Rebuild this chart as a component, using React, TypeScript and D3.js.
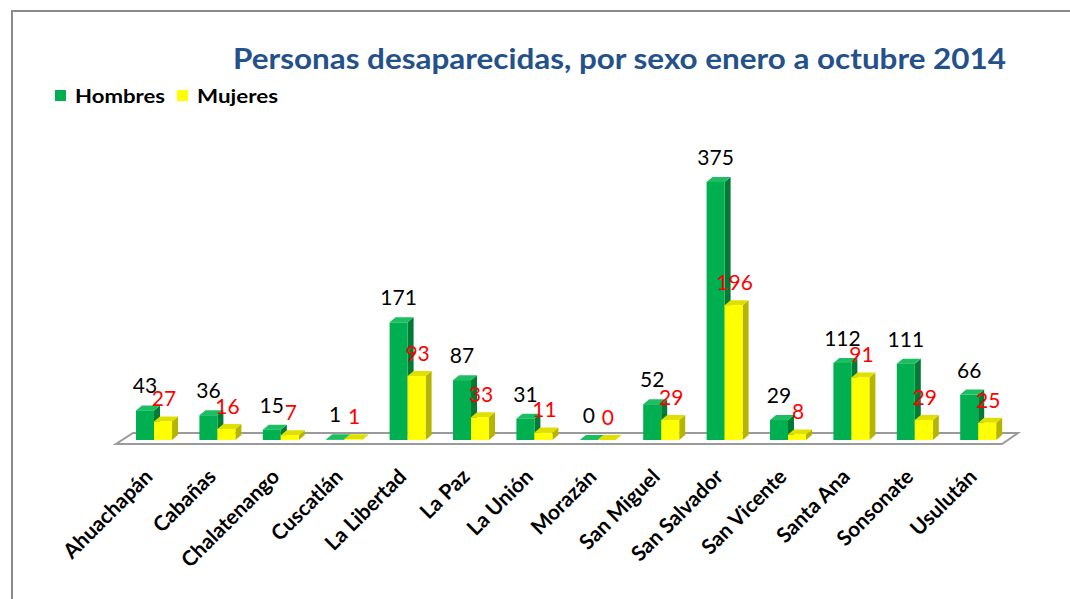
import React from "react";
import * as d3 from "d3";

const categories = ["Ahuachapán","Cabañas","Chalatenango","Cuscatlán","La Libertad","La Paz","La Unión","Morazán","San Miguel","San Salvador","San Vicente","Santa Ana","Sonsonate","Usulután"];
const hombres = [43,36,15,1,171,87,31,0,52,375,29,112,111,66];
const mujeres = [27,16,7,1,93,33,11,0,29,196,8,91,29,25];
const seriesNames = ["Hombres","Mujeres"];
const title = "Personas desaparecidas, por sexo enero a octubre 2014";

const W = 1070, H = 599;
const FONT = "Lato, 'Open Sans', sans-serif";
const GREEN = { front: "#00B050", side: "#007A35", top: "#1DBE62" };
const YELLOW = { front: "#FFFF00", side: "#B5B500", top: "#E0E000" };
const DX = 6, DY = 5;
const BASE = 440;

function Bar3D({ x, w, y, c }: { x: number; w: number; y: number; c: typeof GREEN }) {
  const h = BASE - y;
  return (
    <g>
      <polygon points={`${x + w},${y} ${x + w + DX},${y - DY} ${x + w + DX},${BASE - DY} ${x + w},${BASE}`} fill={c.side} />
      <polygon points={`${x},${y} ${x + DX},${y - DY} ${x + w + DX},${y - DY} ${x + w},${y}`} fill={c.top} />
      {h > 0.5 && <rect x={x} y={y} width={w} height={h} fill={c.front} />}
    </g>
  );
}

export default function App() {
  const x = d3.scaleBand<string>().domain(categories).range([122.3, 122.3 + 63.4 * categories.length]).padding(0);
  const y = d3.scaleLinear().domain([0, 375]).range([BASE, 182]);
  const step = x.step();
  const bw = 18;
  const off = (step - 2 * bw) / 2;

  const floor = [[116, 444], [1002, 444], [1018, 433], [133, 433]];

  return (
    <svg width={W} height={H} style={{ position: "absolute", left: 0, top: 0, background: "#fff" }} fontFamily={FONT}>
      <rect x={12} y={11} width={1100} height={700} fill="none" stroke="#8a8a8a" strokeWidth={2} />
      <text x={233} y={69} fontSize={28} fontWeight="bold" fill="#24518A" textLength={773} lengthAdjust="spacingAndGlyphs">{title}</text>
      {/* legend */}
      <rect x={55} y={90} width={11} height={11} fill={GREEN.front} />
      <text x={75} y={103} fontSize={19} fontWeight="bold" fill="#000" textLength={90} lengthAdjust="spacingAndGlyphs">{seriesNames[0]}</text>
      <rect x={177} y={90} width={11} height={11} fill={YELLOW.front} />
      <text x={197} y={103} fontSize={19} fontWeight="bold" fill="#000" textLength={81} lengthAdjust="spacingAndGlyphs">{seriesNames[1]}</text>
      {/* floor */}
      <polygon points={floor.map(p => p.join(",")).join(" ")} fill="#fff" stroke="#9a9a9a" strokeWidth={2} />
      {categories.map((c, i) => {
        const gx = (x(c) as number) + off;
        const yx = gx + bw;
        return (
          <g key={c}>
            <Bar3D x={gx} w={bw} y={y(hombres[i])} c={GREEN} />
            <Bar3D x={yx} w={bw} y={y(mujeres[i])} c={YELLOW} />
          </g>
        );
      })}
      {categories.map((c, i) => {
        const gx = (x(c) as number) + off;
        const yx = gx + bw;
        return (
          <g key={c + "l"} fontSize={21}>
            <text x={gx + bw / 2} y={y(hombres[i]) - 17} textAnchor="middle" fill="#000">{hombres[i]}</text>
            <text x={yx + bw / 2 + 1} y={y(mujeres[i]) - 15} textAnchor="middle" fill="#FF0000">{mujeres[i]}</text>
          </g>
        );
      })}
      {categories.map((c) => {
        const cx = (x(c) as number) + step / 2;
        return (
          <text key={c + "c"} transform={`translate(${cx},${478}) rotate(-45)`} textAnchor="end" fontSize={21} fontWeight="bold" fill="#000">{c}</text>
        );
      })}
    </svg>
  );
}
